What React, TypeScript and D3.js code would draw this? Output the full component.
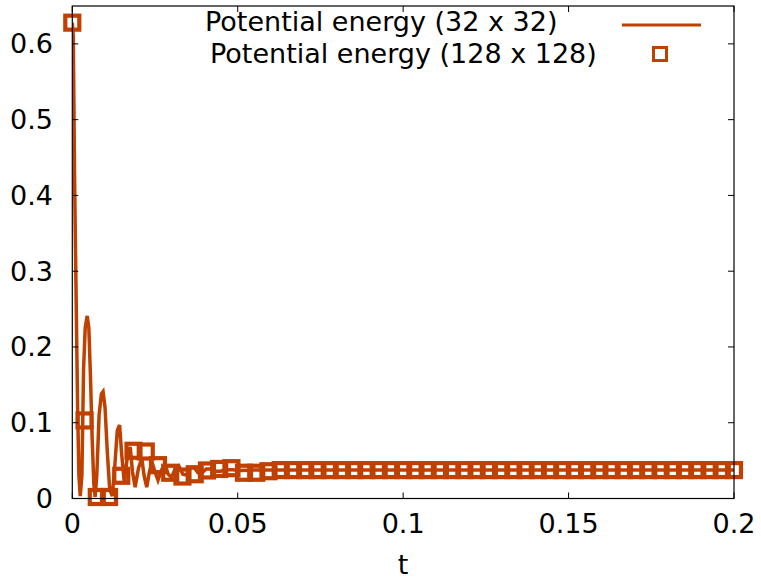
import React from "react";
import * as d3 from "d3";

// 32 x 32 run (line)
const lineT = [
  0, 0.0003, 0.0007, 0.0011, 0.0016, 0.002, 0.0024, 0.0029, 0.0034, 0.0039, 0.0045, 0.005, 0.0055, 0.006,
  0.0065, 0.0069, 0.0074, 0.0081, 0.0088, 0.0093, 0.0099, 0.0106, 0.0113, 0.0121, 0.0128, 0.0136, 0.0143,
  0.0149, 0.0157, 0.0165, 0.0175, 0.0182, 0.019, 0.02, 0.021, 0.0217, 0.0225, 0.0233, 0.0241, 0.025, 0.0259,
  0.027, 0.028, 0.029, 0.03, 0.0312, 0.0322, 0.0334, 0.0345, 0.0357, 0.0368, 0.038, 0.0392, 0.0405, 0.0418,
  0.0432, 0.0448, 0.0465, 0.0485, 0.051, 0.055, 0.06, 0.1, 0.15, 0.2,
];
const lineV = [
  0.628, 0.61, 0.42, 0.285, 0.12, 0.03, 0.003, 0.03, 0.17, 0.225, 0.241, 0.225, 0.16, 0.08,
  0.02, 0.002, 0.03, 0.11, 0.138, 0.141, 0.12, 0.06, 0.012, 0.003, 0.04, 0.09, 0.097,
  0.06, 0.022, 0.05, 0.068, 0.035, 0.015, 0.04, 0.053, 0.03, 0.015, 0.035, 0.048, 0.035, 0.024,
  0.038, 0.045, 0.032, 0.028, 0.04, 0.043, 0.032, 0.031, 0.04, 0.041, 0.034, 0.034, 0.039, 0.039,
  0.036, 0.036, 0.038, 0.038, 0.037, 0.0375, 0.0375, 0.0375, 0.0375, 0.0375,
];

// 128 x 128 run (squares)
const sqT = [
  0, 0.0037, 0.0074, 0.0111, 0.0148, 0.0185, 0.0222, 0.0259, 0.0296, 0.0333, 0.037, 0.0407, 0.0444,
  0.0481, 0.0519, 0.0556, 0.0593, 0.063, 0.0667, 0.0704, 0.0741, 0.0778, 0.0815, 0.0852, 0.0889,
  0.0926, 0.0963, 0.1, 0.1037, 0.1074, 0.1111, 0.1148, 0.1185, 0.1222, 0.1259, 0.1296, 0.1333, 0.137,
  0.1407, 0.1444, 0.1481, 0.1519, 0.1556, 0.1593, 0.163, 0.1667, 0.1704, 0.1741, 0.1778, 0.1815,
  0.1852, 0.1889, 0.1926, 0.1963, 0.2,
];
const sqV = [
  0.628, 0.103, 0.002, 0.002, 0.03, 0.063, 0.062, 0.044, 0.034, 0.029, 0.032, 0.037, 0.039,
  0.04, 0.034, 0.034, 0.036, 0.0375, 0.0375, 0.0375, 0.0375, 0.0375, 0.0375, 0.0375, 0.0375,
  0.0375, 0.0375, 0.0375, 0.0375, 0.0375, 0.0375, 0.0375, 0.0375, 0.0375, 0.0375, 0.0375, 0.0375, 0.0375,
  0.0375, 0.0375, 0.0375, 0.0375, 0.0375, 0.0375, 0.0375, 0.0375, 0.0375, 0.0375, 0.0375, 0.0375,
  0.0375, 0.0375, 0.0375, 0.0375, 0.0375,
];

const xTicks = [0, 0.05, 0.1, 0.15, 0.2];
const xTickLabels = ["0", "0.05", "0.1", "0.15", "0.2"];
const yTicks = [0, 0.1, 0.2, 0.3, 0.4, 0.5, 0.6];
const yTickLabels = ["0", "0.1", "0.2", "0.3", "0.4", "0.5", "0.6"];
const legendLabels = ["Potential energy (32 x 32)", "Potential energy (128 x 128)"];
const xLabel = "t";

const COLOR = "#c04000";
const FONT = "'DejaVu Sans', sans-serif";

export default function App() {
  const W = 761;
  const H = 580;
  const x = d3.scaleLinear().domain([0, 0.2]).range([72.3, 734]);
  const y = d3.scaleLinear().domain([0, 0.65]).range([498.5, 6]);
  const [x0, x1] = x.range();
  const [y0, y1] = y.range();

  const pts: [number, number][] = lineT.map((t, i) => [t, lineV[i]]);
  const line = d3
    .line<[number, number]>()
    .x((d) => x(d[0]))
    .y((d) => y(d[1]));

  const sq = 14;
  const sqStroke = 4.2;
  const tick = 6;

  return (
    <div style={{ position: "absolute", left: 0, top: 0 }}>
      <svg width={W} height={H} style={{ display: "block", background: "#fff" }} fontFamily={FONT}>
        <defs>
          <clipPath id="plotclip">
            <rect x={x0} y={y1} width={x1 - x0} height={y0 - y1} />
          </clipPath>
        </defs>
        <path
          d={line(pts) || ""}
          fill="none"
          stroke={COLOR}
          strokeWidth={3.5}
          strokeLinejoin="miter"
          clipPath="url(#plotclip)"
        />
        {sqT.map((t, i) => (
          <rect
            key={i}
            x={x(t) - sq / 2}
            y={y(sqV[i]) - sq / 2}
            width={sq}
            height={sq}
            fill="none"
            stroke={COLOR}
            strokeWidth={sqStroke}
          />
        ))}
        {/* border */}
        <rect x={x0} y={y1} width={x1 - x0} height={y0 - y1} fill="none" stroke="#000" strokeWidth={1.2} />
        {xTicks.map((t, i) => (
          <g key={"xt" + i}>
            <line x1={x(t)} x2={x(t)} y1={y0} y2={y0 - tick} stroke="#000" strokeWidth={1} />
            <line x1={x(t)} x2={x(t)} y1={y1} y2={y1 + tick} stroke="#000" strokeWidth={1} />
            <text x={x(t)} y={533} textAnchor="middle" fontSize={27} fill="#000">
              {xTickLabels[i]}
            </text>
          </g>
        ))}
        {yTicks.map((v, i) => (
          <g key={"yt" + i}>
            <line x1={x0} x2={x0 + tick} y1={y(v)} y2={y(v)} stroke="#000" strokeWidth={1} />
            <line x1={x1} x2={x1 - tick} y1={y(v)} y2={y(v)} stroke="#000" strokeWidth={1} />
            <text x={53} y={y(v) + 9.5} textAnchor="end" fontSize={27} fill="#000">
              {yTickLabels[i]}
            </text>
          </g>
        ))}
        <text x={403} y={574} textAnchor="middle" fontSize={27} fill="#000">
          {xLabel}
        </text>
        {/* legend */}
        <text x={205} y={31} fontSize={27} fill="#000">
          {legendLabels[0]}
        </text>
        <line x1={622} x2={701} y1={25} y2={25} stroke={COLOR} strokeWidth={3} />
        <text x={210} y={63} fontSize={27} fill="#000">
          {legendLabels[1]}
        </text>
        <rect x={660 - 13 / 2} y={54 - 13 / 2} width={13} height={13} fill="none" stroke={COLOR} strokeWidth={3} />
      </svg>
    </div>
  );
}
